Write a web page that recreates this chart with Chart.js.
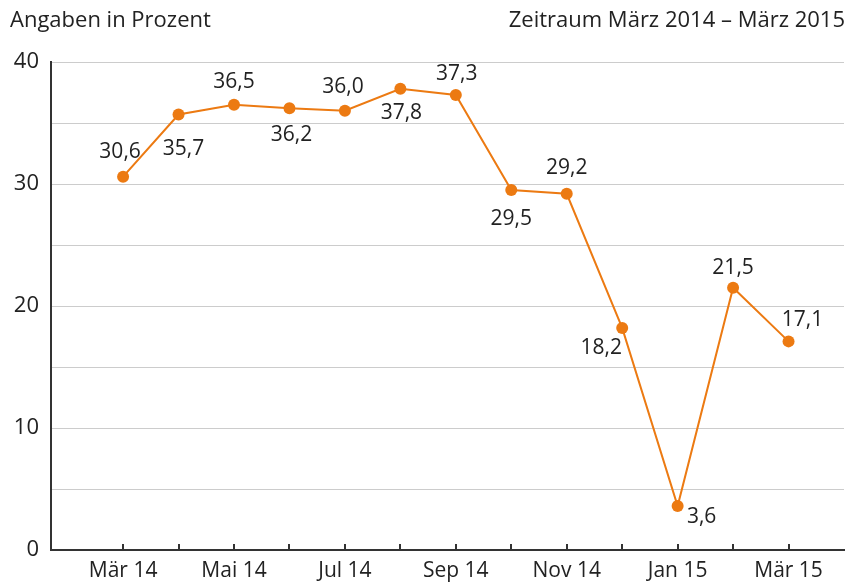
<!DOCTYPE html>
<html>
<head>
<meta charset="utf-8">
<script src="https://cdn.jsdelivr.net/npm/chart.js@4.4.1/dist/chart.umd.min.js"></script>
<style>
    html, body { margin: 0; padding: 0; background: #fff; }
    .wrap { position: relative; width: 850px; height: 583px; }
    .head { position: absolute; top: 3px; font-family: 'Open Sans', sans-serif; font-size: 22px; color: #222; }
    .head.left { left: 10px; }
    .head.right { right: 5px; }
</style>
</head>
<body>
<div class="wrap">
    <div class="head left">Angaben in Prozent</div>
    <div class="head right">Zeitraum März 2014 – März 2015</div>
    <canvas id="lineChart" width="850" height="583"></canvas>
</div>
<script>
const months = ['Mär 14', 'Apr 14', 'Mai 14', 'Jun 14', 'Jul 14', 'Aug 14', 'Sep 14', 'Okt 14', 'Nov 14', 'Dez 14', 'Jan 15', 'Feb 15', 'Mär 15'];
const values = [30.6, 35.7, 36.5, 36.2, 36.0, 37.8, 37.3, 29.5, 29.2, 18.2, 3.6, 21.5, 17.1];
const yTicks = [0, 10, 20, 30, 40];

// where each value label sits relative to its point (dx, dy in px)
const labelOffsets = [
    [-3, -25], [5, 35], [0, -23], [2, 27], [-2, -24], [1, 24], [1, -21],
    [0, 29], [0, -26], [-21, 20], [24, 11], [0, -20], [14, -21]
];

const orange = '#ec7a12';
const font = "'Open Sans', sans-serif";

const valueLabels = {
    id: 'valueLabels',
    afterDatasetsDraw(chart) {
        const ctx = chart.ctx;
        const meta = chart.getDatasetMeta(0);
        ctx.save();
        ctx.font = '21px ' + font;
        ctx.fillStyle = '#222';
        ctx.textAlign = 'center';
        ctx.textBaseline = 'middle';
        meta.data.forEach((pt, i) => {
            const [dx, dy] = labelOffsets[i];
            ctx.fillText(values[i].toFixed(1).replace('.', ','), pt.x + dx, pt.y + dy);
        });
        ctx.restore();
    }
};

// small month ticks pointing up from the x axis
const innerTicks = {
    id: 'innerTicks',
    afterDraw(chart) {
        const ctx = chart.ctx;
        const x = chart.scales.x;
        const bottom = chart.chartArea.bottom;
        ctx.save();
        ctx.strokeStyle = '#333';
        ctx.lineWidth = 2;
        months.forEach((m, i) => {
            const px = Math.round(x.getPixelForValue(i));
            ctx.beginPath();
            ctx.moveTo(px, bottom);
            ctx.lineTo(px, bottom - 6);
            ctx.stroke();
        });
        ctx.restore();
    }
};

new Chart(document.getElementById('lineChart'), {
    type: 'line',
    data: {
        datasets: [{
            data: values.map((v, i) => ({ x: i, y: v })),
            borderColor: orange,
            backgroundColor: orange,
            borderWidth: 2,
            pointRadius: 6,
            pointBackgroundColor: orange,
            pointBorderWidth: 0,
            tension: 0
        }]
    },
    options: {
        responsive: false,
        animation: false,
        layout: { padding: { top: 62, right: 4, left: 0, bottom: 0 } },
        plugins: {
            legend: { display: false },
            tooltip: { enabled: false }
        },
        scales: {
            x: {
                type: 'linear',
                min: -1.3,
                max: 13,
                grid: { display: false },
                border: { display: true, color: '#333', width: 2 },
                afterBuildTicks: (scale) => {
                    scale.ticks = months.map((m, i) => ({ value: i }));
                },
                afterFit: (scale) => { scale.height = 33; },
                ticks: {
                    autoSkip: false,
                    maxRotation: 0,
                    padding: 0,
                    color: '#222',
                    font: { family: font, size: 21 },
                    callback: (v) => (v % 2 === 0 ? months[v] : '')
                }
            },
            y: {
                min: 0,
                max: 40,
                grid: { color: '#cccccc', lineWidth: 1, drawTicks: false },
                border: { display: true, color: '#333', width: 2 },
                afterBuildTicks: (scale) => {
                    const t = [];
                    for (let v = 0; v <= 40; v += 5) t.push({ value: v });
                    scale.ticks = t;
                },
                afterFit: (scale) => { scale.width = 51; },
                ticks: {
                    padding: 12,
                    color: '#222',
                    font: { family: font, size: 22 },
                    callback: (v) => (yTicks.includes(v) ? String(v) : '')
                }
            }
        }
    },
    plugins: [valueLabels, innerTicks]
});
</script>
</body>
</html>
